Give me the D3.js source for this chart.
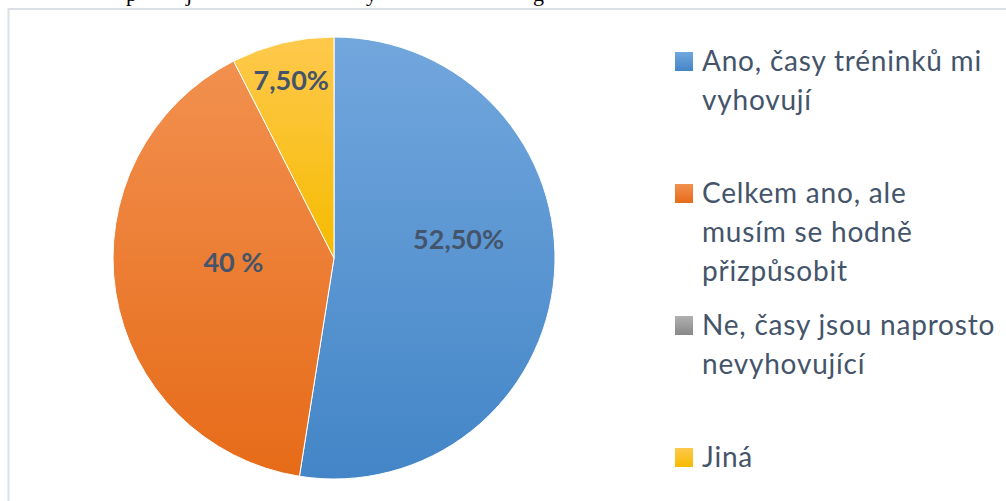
<!DOCTYPE html>
<html>
<head>
<meta charset="utf-8">
<script src="https://cdn.jsdelivr.net/npm/d3@7"></script>
<style>
  html, body { margin: 0; padding: 0; background: #fff; overflow: hidden; }
  svg { display: block; }
</style>
</head>
<body>
<svg id="chart" width="1006" height="501"></svg>
<script>
// Odpovědi na otázku, zda respondentům vyhovují časy tréninků
const categories = [
  "Ano, časy tréninků mi vyhovují",
  "Celkem ano, ale musím se hodně přizpůsobit",
  "Ne, časy jsou naprosto nevyhovující",
  "Jiná"
];
const values = [52.5, 40, 0, 7.5];
const valueLabels = ["52,50%", "40 %", "", "7,50%"];
// legend text broken into lines as it wraps in the legend box
const legendLines = [
  ["Ano, časy tréninků mi", "vyhovují"],
  ["Celkem ano, ale", "musím se hodně", "přizpůsobit"],
  ["Ne, časy jsou naprosto", "nevyhovující"],
  ["Jiná"]
];
// light/dark ends of each slice's vertical gradient
const colorsLight = ["#72a7dd", "#f2904f", "#b0b0b0", "#ffc94d"];
const colorsDark  = ["#4385c7", "#e66b18", "#888888", "#f5bb00"];

const svg = d3.select("#chart");
const W = 1006, H = 501;

// chart-area frame
svg.append("rect")
  .attr("x", 8.5).attr("y", 9)
  .attr("width", W + 20).attr("height", H + 20)
  .attr("fill", "#fff")
  .attr("stroke", "#dce1e8").attr("stroke-width", 2);

// descenders of the caption line running above the chart
const capt = svg.append("g")
  .attr("font-family", "'Liberation Serif', 'Times New Roman', serif")
  .attr("font-size", 22).attr("fill", "#000");
[["p", 126], ["j", 186], ["y", 366], ["g", 533]].forEach(([ch, x]) => {
  capt.append("text").attr("x", x).attr("y", 1).text(ch);
});

const defs = svg.append("defs");
categories.forEach((c, i) => {
  const g = defs.append("linearGradient")
    .attr("id", "grad" + i)
    .attr("x1", 0).attr("y1", 0).attr("x2", 0).attr("y2", 1);
  g.append("stop").attr("offset", "0%").attr("stop-color", colorsLight[i]);
  g.append("stop").attr("offset", "100%").attr("stop-color", colorsDark[i]);
});

const cx = 334, cy = 258, radius = 221;

const pie = d3.pie().sort(null).value(d => d.value);
const data = categories.map((c, i) => ({ name: c, value: values[i], label: valueLabels[i], idx: i }));
const arcs = pie(data);

const arc = d3.arc().innerRadius(0).outerRadius(radius);

const pieG = svg.append("g").attr("transform", `translate(${cx},${cy})`);

pieG.selectAll("path.slice")
  .data(arcs.filter(a => a.data.value > 0))
  .join("path")
  .attr("class", "slice")
  .attr("d", arc)
  .attr("fill", d => `url(#grad${d.data.idx})`)
  .attr("stroke", "#fff")
  .attr("stroke-width", 1);

// data labels: placed on a label arc, then nudged the way the best-fit layout sets them
const labelRadius = [125, 113, 0, 183];
const labelNudge = [[0, -29], [11, -13], [0, 0], [0, 0]];

pieG.selectAll("text.val")
  .data(arcs.filter(a => a.data.value > 0))
  .join("text")
  .attr("class", "val")
  .attr("transform", d => {
    const la = d3.arc().innerRadius(labelRadius[d.data.idx]).outerRadius(labelRadius[d.data.idx]);
    const [x, y] = la.centroid(d);
    const [nx, ny] = labelNudge[d.data.idx];
    return `translate(${x + nx},${y + ny})`;
  })
  .attr("text-anchor", "middle")
  .attr("dy", "0.36em")
  .attr("font-family", "Lato, 'Open Sans', sans-serif")
  .attr("font-weight", "bold")
  .attr("font-size", 27)
  .attr("fill", "#44546a")
  .text(d => d.data.label);

// legend
const legend = svg.append("g")
  .attr("font-family", "Lato, 'Open Sans', sans-serif")
  .attr("font-size", 28)
  .attr("letter-spacing", 0.8)
  .attr("fill", "#44546a");

const legY0 = 71, legStep = 132, lineH = 39;
const entries = legend.selectAll("g.entry")
  .data(categories)
  .join("g")
  .attr("class", "entry")
  .attr("transform", (d, i) => `translate(0,${legY0 + i * legStep})`);

entries.append("rect")
  .attr("x", 675).attr("y", -19)
  .attr("width", 18).attr("height", 19)
  .attr("fill", (d, i) => `url(#grad${i})`);

entries.each(function(d, i) {
  const t = d3.select(this).append("text").attr("x", 702).attr("y", 0);
  legendLines[i].forEach((line, j) => {
    t.append("tspan").attr("x", 702).attr("y", j * lineH).text(line);
  });
});
</script>
</body>
</html>
